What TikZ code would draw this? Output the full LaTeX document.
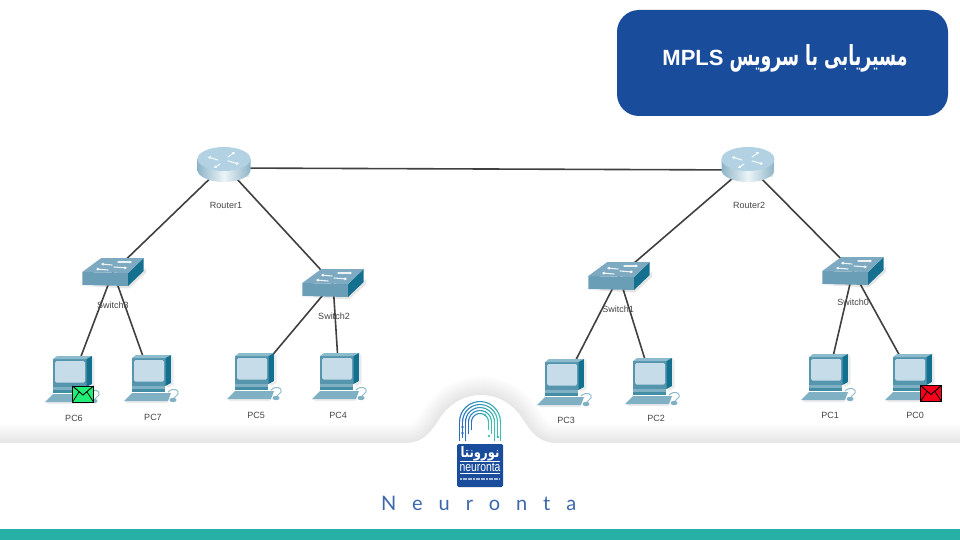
\documentclass[tikz,border=0pt]{standalone}
\usepackage{graphicx}
\usepackage{fontspec}
\setmainfont{Liberation Sans}
\newfontfamily\arabicfont[Script=Arabic]{DejaVu Sans}
\newfontfamily\latobrand[LetterSpace=80]{Lato}
\TeXXeTstate=1
\usetikzlibrary{calc,arrows.meta}
\definecolor{titleblue}{HTML}{1A4C9C}
\definecolor{bandteal}{HTML}{27B0A5}
\definecolor{wirecol}{HTML}{404040}
\definecolor{lblcol}{HTML}{454545}
\definecolor{swtop}{HTML}{7EAAC1}
\definecolor{swfront}{HTML}{6A9DB6}
\definecolor{swside}{HTML}{15708F}
\definecolor{rtrtop}{HTML}{B2D2E3}
\definecolor{rtrmid}{HTML}{EDF5F8}
\definecolor{rtrdark}{HTML}{8DB4C8}
\definecolor{pcbody}{HTML}{5596AE}
\definecolor{pclight}{HTML}{8CBBCD}
\definecolor{pcside}{HTML}{14708F}
\definecolor{pcscreen}{HTML}{C6DCE9}
\definecolor{pckey}{HTML}{7FB0C4}
\definecolor{logoblue}{HTML}{2B6FC0}
\definecolor{logoteal}{HTML}{3DBFB0}
\definecolor{mailgreen}{HTML}{22EE77}
\definecolor{mailred}{HTML}{F5001A}
\tikzset{
  x=1pt,y=-1pt,
  anchorbox/.style={inner sep=0pt,minimum size=1pt,outer sep=0pt},
  wire/.style={draw=wirecol,line width=1.6pt},
  devlabel/.style={font=\fontsize{9}{10}\selectfont,text=lblcol,inner sep=0pt},
  arrowmark/.style={draw=white,line width=1.1pt,opacity=.85,line cap=round,-{Triangle[length=2.5pt,width=3pt]}},
  routerpic/.pic={
    \fill[black,opacity=.10] (-22,10) rectangle (25,12.5);
    \shade[left color=rtrdark,right color=rtrdark,middle color=rtrmid]
      (-26.5,-6) -- (-26.5,5) arc[start angle=180,end angle=360,x radius=26.5pt,y radius=12pt] -- (26.5,-6) -- cycle;
    \fill[rtrtop] (0,-6) ellipse[x radius=26.5pt,y radius=12pt];
    \draw[arrowmark] (-6,-5) -- (-16,-8);
    \draw[arrowmark] (4,-8) -- (11,-13);
    \draw[arrowmark] (4,-4) -- (15,-1);
    \draw[arrowmark] (-4,-1) -- (-10,3);
  },
  switchpic/.pic={
    \fill[black,opacity=.10] (-28,14) -- (16,16.5) -- (33,1) -- (33,-4) -- (16,12) -- cycle;
    \fill[swfront] (-30.7,0) -- (15,1) -- (15,14) -- (-30.7,13) -- cycle;
    \fill[swside] (15,1) -- (30.7,-14) -- (30.7,-1) -- (15,14) -- cycle;
    \fill[swtop] (-30.7,0) -- (-11.7,-14) -- (30.7,-14) -- (15,1) -- cycle;
    \draw[arrowmark] (-1,-7) -- (-12,-8);
    \draw[arrowmark] (5,-10) -- (19,-10);
    \draw[arrowmark] (-5,-2) -- (-17,-3);
    \draw[arrowmark] (1,-5) -- (14,-4);
  },
  pcpic/.pic={
    \fill[black,opacity=.08] (15,7) -- (21,4) -- (21,-23) -- (22.5,-21) -- (22.5,6) -- (17,9) -- cycle;
    \fill[black,opacity=.08] (-26,22) -- (17,22) -- (16,24) -- (-24,24) -- cycle;
    \fill[pcbody] (-19,-21) rectangle (14.5,7);
    \fill[pclight] (-19,-21) -- (-15,-24) -- (20,-24) -- (14.5,-21) -- cycle;
    \fill[pcside] (14.5,-21) -- (20,-24) -- (20,4) -- (14.5,7) -- cycle;
    \fill[pcscreen,rounded corners=1.5pt] (-17,-19) rectangle (13,2.5);
    \fill[pckey] (-19,7) rectangle (14,10);
    \fill[pcside!80!white] (-19,10) rectangle (14,13);
    \fill[pckey] (-19,14) -- (20,14) -- (17,22) -- (-27,22) -- cycle;
    \draw[pclight,line width=1pt] (17,13) .. controls (22,8) and (29,11) .. (27,15) .. controls (26,17) and (24,17) .. (23,19);
    \fill[pckey] (22,21) ellipse[x radius=3.5pt,y radius=2.2pt];
  },
}
\newcommand{\envelope}[3]{%
  \draw[black,line width=1pt,fill=#3] (#1,#2) rectangle ++(21,16);
  \draw[black,line width=.9pt] (#1,#2) -- ++(10.5,9) -- ++(10.5,-9);
  \draw[black,line width=.7pt] ($(#1,#2)+(0,16)$) -- ++(6.5,-10) ($(#1,#2)+(21,16)$) -- ++(-6.5,-10);
}
\begin{document}
\begin{tikzpicture}
\useasboundingbox (0,0) rectangle (960,540);
\fill[white] (0,0) rectangle (960,540);

% bottom panel with its soft shadow
\def\panelpath{(-20,443) -- (405,443) .. controls (425,443) and (432,430) .. (440,418) .. controls (450,403) and (465,395) .. (481,395) .. controls (497,395) and (512,403) .. (522,418) .. controls (530,430) and (537,443) .. (557,443) -- (980,443)}
\begin{scope}
\clip (0,0) rectangle (960,540);
\foreach \w in {2,5,...,38}{
  \draw[black,opacity=.0065,line width=\w pt] \panelpath;
}
\fill[white] \panelpath -- (980,560) -- (-20,560) -- cycle;
\end{scope}
\fill[bandteal] (0,529) rectangle (960,540);

% title
\node[fill=titleblue,rounded corners=22pt,minimum width=331pt,minimum height=106pt,inner sep=0pt] (titlebox) at (782.5,63) {};
\node[text=white,inner sep=0pt] (titletext) at (785,58) {\fontsize{22}{22}\selectfont\bfseries MPLS\hspace{6pt}\resizebox{178pt}{21pt}{\arabicfont\bfseries\beginR مسیریابی با سرویس\endR}};

% device positions
\node[anchorbox] (r1) at (224,165) {};
\node[anchorbox] (r2) at (748,165) {};
\node[anchorbox] (s3) at (113,272) {};
\node[anchorbox] (s2) at (333,283) {};
\node[anchorbox] (s1) at (619,276) {};
\node[anchorbox] (s0) at (853,271) {};
\node[anchorbox] (pc6) at (72,380) {};
\node[anchorbox] (pc7) at (151,379) {};
\node[anchorbox] (pc5) at (254,377) {};
\node[anchorbox] (pc4) at (339,377) {};
\node[anchorbox] (pc3) at (564,383) {};
\node[anchorbox] (pc2) at (652,382) {};
\node[anchorbox] (pc1) at (828,378) {};
\node[anchorbox] (pc0) at (912,378) {};

% connectors
\draw[wire] ([yshift=-3pt]r1.center) -- ([yshift=-5pt]r2.center);
\draw[wire] (r1) -- (s3);
\draw[wire] (r1) -- (s2);
\draw[wire] (r2) -- (s1);
\draw[wire] (r2) -- (s0);
\draw[wire] (s3) -- (pc6);
\draw[wire] (s3) -- (pc7);
\draw[wire] (s2) -- (pc5);
\draw[wire] (s2) -- (pc4);
\draw[wire] (s1) -- (pc3);
\draw[wire] (s1) -- (pc2);
\draw[wire] (s0) -- (pc1);
\draw[wire] (s0) -- (pc0);

% icons
\pic at (r1) {routerpic};
\pic at (r2) {routerpic};
\pic at (s3) {switchpic};
\pic at (s2) {switchpic};
\pic at (s1) {switchpic};
\pic at (s0) {switchpic};
\pic at (pc6) {pcpic};
\pic at (pc7) {pcpic};
\pic at (pc5) {pcpic};
\pic at (pc4) {pcpic};
\pic at (pc3) {pcpic};
\pic at (pc2) {pcpic};
\pic at (pc1) {pcpic};
\pic at (pc0) {pcpic};
\envelope{72.5}{386}{mailgreen}
\envelope{920.5}{385.5}{mailred}

% labels
\node[devlabel] (lr1) at (226,205) {Router1};
\node[devlabel] (lr2) at (749,205) {Router2};
\node[devlabel] (ls3) at (113,305) {Switch3};
\node[devlabel] (ls2) at (334,316) {Switch2};
\node[devlabel] (ls1) at (618,309) {Switch1};
\node[devlabel] (ls0) at (853,302) {Switch0};
\node[devlabel] (lpc6) at (74,418) {PC6};
\node[devlabel] (lpc7) at (153,417) {PC7};
\node[devlabel] (lpc5) at (256,415) {PC5};
\node[devlabel] (lpc4) at (338,415) {PC4};
\node[devlabel] (lpc3) at (566,420) {PC3};
\node[devlabel] (lpc2) at (656,418) {PC2};
\node[devlabel] (lpc1) at (830,415) {PC1};
\node[devlabel] (lpc0) at (915,415) {PC0};

% logo arches
\foreach \rad/\leg in {20.5/441,17.5/438,14.5/441,11.5/434,8.5/430}{
  \draw[logoblue,line width=1.1pt] ({480-\rad},\leg) -- ({480-\rad},422);
  \draw[logoteal,line width=1.1pt] ({480+\rad},\leg) -- ({480+\rad},422);
  \foreach \ang in {0,12,...,168}{
    \pgfmathtruncatemacro{\pct}{(\ang+6)/1.8}
    \pgfmathsetmacro{\angb}{\ang+13}
    \draw[logoblue!\pct!logoteal,line width=1.1pt]
      ({480+\rad*cos(\ang)},{422-\rad*sin(\ang)}) -- ({480+\rad*cos(\angb)},{422-\rad*sin(\angb)});
  }
}
\fill[logoblue] (462.5,427) circle (1.3pt) (462.5,433) circle (1.3pt);
\fill[logoteal] (489,436) circle (1.3pt) (498,437) circle (1.3pt) (485,415) circle (1.3pt);

% logo plate
\node[fill=titleblue,rounded corners=1.5pt,minimum width=46pt,minimum height=43pt,inner sep=0pt] (plate) at (480,465.5) {};
\node[text=white,inner sep=0pt] (platefa) at (480,453.5) {\resizebox{39pt}{11pt}{\arabicfont\bfseries\beginR نورونتا\endR}};
\node[text=white,inner sep=0pt] (plateen) at (480,467.5) {\resizebox{41pt}{8.5pt}{neuronta}};
\draw[white,line width=.6pt] (460,461.5) -- (500,461.5) (460,473.5) -- (500,473.5);
\draw[white,opacity=.65,line width=1.2pt,dash pattern=on 2pt off .6pt] (460,479) -- (500,479);

% brand
\node[anchor=west,inner sep=0pt,text=titleblue!85!white] (brand) at (381,503) {\fontsize{20}{22}\selectfont\latobrand Neuronta};
\end{tikzpicture}
\end{document}
